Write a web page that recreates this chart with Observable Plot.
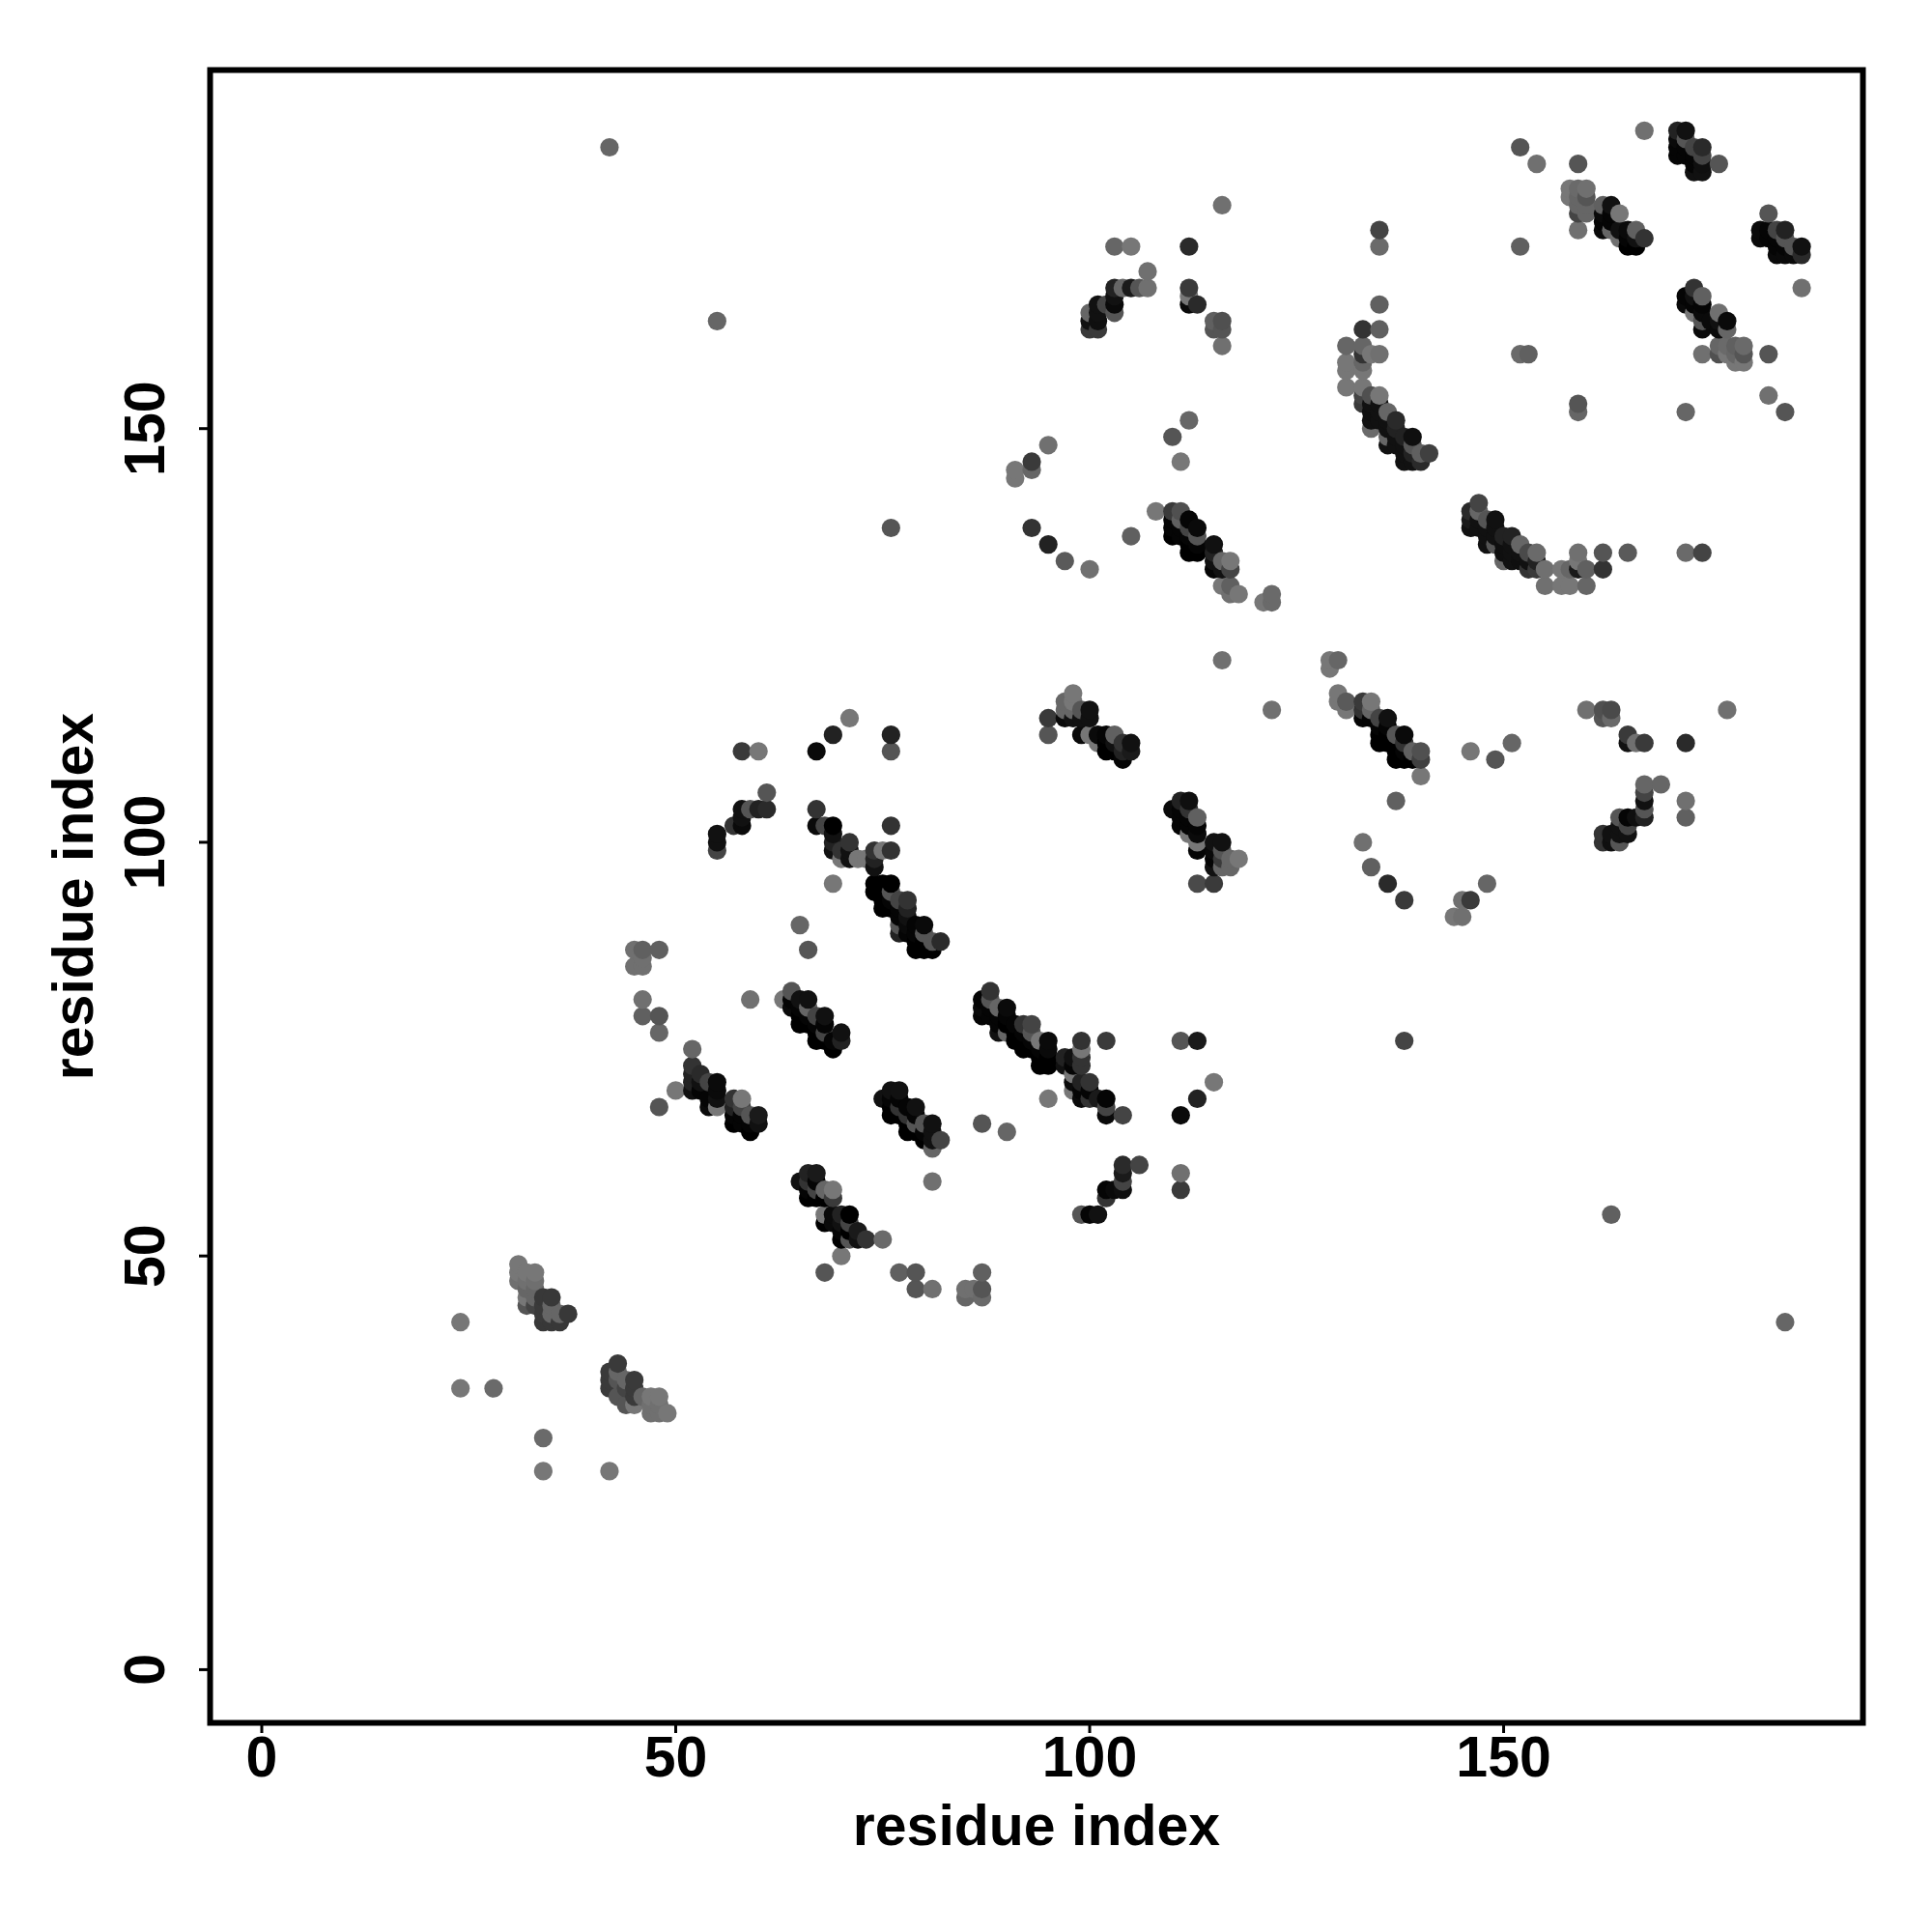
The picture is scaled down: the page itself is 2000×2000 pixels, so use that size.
<!DOCTYPE html>
<html><head><meta charset="utf-8">
<script src="https://cdn.jsdelivr.net/npm/d3@7"></script>
<script src="https://cdn.jsdelivr.net/npm/@observablehq/plot@0.6"></script>
<style>html,body{margin:0;padding:0;background:#fff}</style>
</head><body><div id="chart"></div>
<script>
// [residue i, residue j, grey level]
const isolated = [[24,42,0x77],[24,34,0x77],[28,34,0x6a],[34,28,0x6a],[34,24,0x77],[42,24,0x77],[42,184,0x66],[55,163,0x66],[76,138,0x55],[138,76,0x44],[163,55,0x60],[184,42,0x66],[116,177,0x70],[135,174,0x44],[135,172,0x6a],[135,165,0x60],[152,184,0x55],[154,182,0x70],[159,182,0x55],[152,172,0x60],[167,186,0x70],[116,122,0x70],[122,116,0x70],[137,105,0x60],[146,111,0x77],[149,110,0x55],[151,112,0x66],[172,112,0x2a],[177,116,0x70],[172,105,0x70],[172,103,0x60],[172,135,0x6a],[174,135,0x44],[165,135,0x5a],[182,159,0x55],[182,154,0x70],[184,152,0x55],[172,152,0x66],[159,153,0x55],[159,152,0x66],[152,159,0x6a],[153,159,0x60],[186,167,0x70],[176,182,0x55],[182,176,0x55],[159,174,0x70]];
const clusterA = [[31,49,0x77],[31,48,0x77],[31,47,0x70],[32,48,0x77],[33,48,0x77],[32,47,0x70],[33,47,0x6f],[32,46,0x66],[33,46,0x66],[32,45,0x77],[32,44,0x55],[33,45,0x66],[33,44,0x44],[34,45,0x38],[35,45,0x38],[34,44,0x3a],[35,44,0x66],[34,43,0x3a],[35,43,0x66],[36,43,0x66],[37,43,0x38],[34,42,0x38],[35,42,0x38],[36,42,0x38]];
const clusterB = [[42,36,0x3a],[42,35,0x3a],[42,34,0x3a],[43,37,0x3a],[43,36,0x66],[43,35,0x55],[43,33,0x55],[44,35,0x66],[44,34,0x44],[44,32,0x55],[45,35,0x3a],[45,34,0x3a],[45,33,0x3a],[45,32,0x77],[46,33,0x66],[47,33,0x77],[48,33,0x77],[47,32,0x70],[48,32,0x70],[47,31,0x70],[48,31,0x70],[49,31,0x77]];
const clusterC = [[45,87,0x70],[46,87,0x60],[48,87,0x60],[45,85,0x70],[46,85,0x70],[46,86,0x70],[46,81,0x70],[46,79,0x60],[48,79,0x55],[48,77,0x66],[52,75,0x66],[50,70,0x77],[48,68,0x55],[59,81,0x70],[66,87,0x55],[65,90,0x66]];
const clusterD = [[52,73,0x33],[52,72,0x22],[52,71,0x22],[52,70,0x11],[53,72,0x2a],[53,71,0x11],[53,70,0x05],[54,71,0x44],[54,69,0x05],[54,68,0x0a],[55,71,0x0a],[55,70,0x0a],[55,69,0x11],[55,68,0x77],[57,69,0x33],[58,69,0x77],[57,68,0x22],[57,67,0x05],[57,66,0x00],[58,68,0x44],[58,67,0x05],[58,66,0x05],[59,67,0x55],[59,66,0x05],[59,65,0x00],[60,67,0x1a],[60,66,0x11]];
const clusterE = [[63,81,0x77],[64,82,0x55],[64,81,0x05],[64,80,0x0a],[65,81,0x11],[65,80,0x05],[65,79,0x00],[65,78,0x00],[66,81,0x11],[66,80,0x66],[66,79,0x05],[66,78,0x00],[67,79,0x44],[67,78,0x05],[67,77,0x00],[67,76,0x00],[68,79,0x11],[68,78,0x05],[68,77,0x44],[68,76,0x00],[69,76,0x05],[69,75,0x00],[70,77,0x11],[70,76,0x22]];
const clusterF = [[58,111,0x3a],[60,111,0x77],[67,111,0x0a],[69,113,0x22],[71,115,0x77],[76,113,0x22],[76,111,0x55],[61,106,0x55],[61,104,0x2a],[60,104,0x22],[59,104,0x55],[58,104,0x11],[58,103,0x11],[58,102,0x0a],[57,102,0x33],[55,101,0x11],[55,100,0x11],[55,99,0x44],[67,104,0x33],[67,102,0x0a],[68,102,0x44],[69,102,0x00],[69,101,0x11],[69,100,0x22],[69,99,0x11],[70,99,0x33],[71,100,0x33],[71,99,0x11],[71,98,0x11],[70,98,0x77],[72,98,0x77],[73,98,0x77],[74,99,0x33],[75,99,0x77],[76,99,0x33],[74,98,0x22],[74,97,0x11],[76,102,0x33],[69,95,0x77]];
const clusterG = [[74,95,0x00],[75,95,0x00],[76,95,0x00],[74,94,0x00],[75,94,0x00],[76,94,0x55],[75,93,0x00],[76,93,0x05],[77,93,0x44],[78,93,0x33],[75,92,0x00],[76,92,0x00],[77,92,0x05],[78,92,0x22],[77,91,0x05],[78,91,0x11],[77,90,0x55],[77,89,0x22],[78,90,0x0a],[78,89,0x05],[79,90,0x05],[80,90,0x0a],[79,89,0x05],[80,89,0x55],[79,88,0x00],[80,88,0x00],[81,88,0x55],[82,88,0x2a],[79,87,0x00],[80,87,0x00],[81,87,0x00]];
const clusterH = [[87,81,0x05],[87,80,0x0a],[87,79,0x05],[88,82,0x33],[88,81,0x55],[88,80,0x05],[88,79,0x05],[89,80,0x66],[89,79,0x05],[89,78,0x05],[89,77,0x11],[90,80,0x0a],[90,79,0x05],[90,78,0x00],[90,77,0x66],[91,78,0x05],[91,77,0x00],[91,76,0x00],[92,78,0x33],[92,77,0x05],[92,76,0x00],[92,75,0x00],[93,78,0x44],[93,77,0x55],[93,76,0x05],[93,75,0x00],[94,76,0x77],[94,75,0x05],[94,74,0x00],[94,73,0x00],[95,76,0x0a],[95,75,0x0a],[95,74,0x00],[95,73,0x00],[97,74,0x22],[97,73,0x11],[98,74,0x11],[98,73,0x05],[98,72,0x77],[99,76,0x33],[99,75,0x77],[99,74,0x33],[99,73,0x33],[102,76,0x3a],[111,76,0x55],[113,76,0x1a]];
const clusterI = [[75,69,0x11],[76,70,0x11],[76,69,0x05],[76,68,0x00],[76,67,0x00],[77,70,0x11],[77,69,0x05],[77,68,0x33],[77,67,0x00],[78,68,0x05],[78,67,0x33],[78,66,0x00],[78,65,0x00],[79,68,0x11],[79,67,0x05],[79,66,0x55],[79,65,0x00],[80,66,0x55],[80,65,0x05],[80,64,0x00],[81,66,0x11],[81,65,0x11],[81,64,0x11],[82,64,0x44],[81,63,0x66],[87,66,0x55],[90,65,0x66],[95,69,0x77],[95,115,0x3a],[95,113,0x55]];
const clusterJ = [[65,59,0x11],[66,60,0x22],[67,60,0x1a],[66,59,0x33],[66,58,0x05],[66,57,0x00],[67,59,0x05],[67,58,0x44],[67,57,0x00],[68,58,0x66],[68,57,0x00],[69,58,0x77],[69,57,0x3a],[68,55,0x77],[68,54,0x00],[69,55,0x0a],[69,54,0x0a],[70,55,0x22],[70,54,0x11],[70,53,0x05],[70,52,0x00],[71,55,0x00],[71,54,0x44],[71,53,0x00],[71,52,0x55],[72,53,0x1a],[72,52,0x11],[73,52,0x33],[75,52,0x6a],[70,50,0x77],[68,48,0x55],[77,48,0x60],[79,48,0x55],[79,46,0x55],[81,46,0x70],[85,46,0x70],[85,45,0x66],[86,46,0x70],[87,45,0x6a],[87,46,0x55],[87,48,0x60],[81,59,0x70]];
const clusterK = [[98,71,0x0a],[98,70,0x77],[99,71,0x22],[99,70,0x05],[99,69,0x0a],[100,71,0x33],[100,70,0x05],[100,69,0x33],[101,69,0x1a],[102,69,0x05],[102,68,0x44],[102,67,0x0a],[104,67,0x44],[111,67,0x0a],[113,69,0x22],[115,71,0x77],[104,61,0x2a],[106,61,0x44],[104,60,0x1a],[104,59,0x44],[104,58,0x0f],[102,58,0x05],[103,58,0x0a],[102,57,0x33],[99,55,0x55],[100,55,0x05],[101,55,0x11],[111,60,0x70],[111,58,0x3a]];
const clusterL = [[97,117,0x66],[97,116,0x66],[97,115,0x0a],[98,118,0x77],[98,117,0x77],[98,116,0x66],[98,115,0x11],[99,116,0x55],[99,115,0x11],[100,116,0x11],[100,115,0x11],[99,113,0x0a],[100,113,0x77],[101,112,0x77],[101,113,0x0a],[102,113,0x05],[103,113,0x60],[102,112,0x00],[102,111,0x00],[103,112,0x11],[103,111,0x00],[104,112,0x33],[104,111,0x22],[104,110,0x05],[105,112,0x11],[105,111,0x1a]];
const clusterM = [[110,104,0x0a],[111,105,0x22],[112,105,0x0f],[111,104,0x05],[112,104,0x33],[111,103,0x05],[111,102,0x05],[112,103,0x05],[113,103,0x60],[113,102,0x05],[112,102,0x05],[112,101,0x77],[113,101,0x0a],[113,100,0x77],[113,99,0x05],[115,100,0x11],[116,100,0x11],[115,99,0x0a],[115,98,0x05],[115,97,0x11],[116,99,0x55],[116,98,0x3a],[116,97,0x66],[117,98,0x66],[117,97,0x66],[118,98,0x77],[113,95,0x4a],[115,95,0x3a]];
const clusterN = [[103,172,0x66],[105,172,0x77],[112,172,0x2a],[107,169,0x70],[107,167,0x70],[106,167,0x55],[105,167,0x1a],[104,167,0x66],[103,167,0x22],[103,166,0x11],[103,165,0x0a],[103,164,0x55],[102,165,0x44],[101,165,0x11],[101,164,0x11],[101,163,0x0f],[101,162,0x3a],[100,164,0x66],[100,163,0x11],[100,162,0x3a],[112,167,0x3a],[112,166,0x77],[112,165,0x0a],[113,165,0x2a],[115,163,0x60],[116,163,0x50],[115,162,0x55],[116,162,0x55],[116,160,0x70]];
const clusterO = [[112,151,0x66],[110,149,0x55],[111,146,0x77],[95,148,0x70],[93,146,0x3a],[93,145,0x66],[91,145,0x77],[91,144,0x77],[93,138,0x33],[95,136,0x22],[97,134,0x5a],[100,133,0x70],[105,137,0x60]];
const clusterP = [[108,140,0x77],[110,140,0x3a],[111,140,0x50],[110,139,0x05],[110,138,0x05],[111,139,0x60],[111,138,0x05],[110,137,0x00],[111,137,0x05],[112,139,0x05],[112,138,0x44],[112,137,0x05],[113,138,0x0a],[113,137,0x55],[113,136,0x05],[112,136,0x00],[112,135,0x00],[113,135,0x00],[115,136,0x11],[115,135,0x22],[115,134,0x11],[115,133,0x05],[116,134,0x66],[116,133,0x11],[117,134,0x77],[117,133,0x44],[116,131,0x77],[117,131,0x60],[117,130,0x70],[118,130,0x77],[121,129,0x77],[122,130,0x6a],[122,129,0x6a]];
const clusterQ = [[171,186,0x22],[172,186,0x11],[171,185,0x0a],[171,184,0x05],[171,183,0x05],[172,185,0x55],[172,184,0x05],[172,183,0x05],[173,184,0x44],[173,183,0x05],[174,184,0x2a],[174,183,0x44],[173,182,0x05],[174,182,0x0f],[173,181,0x11],[174,181,0x11]];
const clusterR = [[181,174,0x0a],[181,173,0x0a],[182,174,0x05],[183,174,0x44],[184,174,0x22],[182,173,0x05],[183,173,0x05],[183,172,0x05],[184,173,0x55],[184,172,0x05],[183,171,0x0a],[184,171,0x0a],[185,172,0x55],[185,171,0x0a],[186,172,0x11],[186,171,0x2a]];
const clusterS = [[158,179,0x77],[158,178,0x77],[159,179,0x6a],[160,179,0x70],[159,178,0x66],[160,178,0x55],[160,177,0x66],[159,177,0x66],[159,176,0x44],[160,176,0x66],[162,177,0x60],[163,177,0x11],[162,176,0x0a],[163,176,0x05],[164,176,0x77],[162,175,0x05],[163,175,0x05],[162,174,0x0a],[163,174,0x66],[164,174,0x11],[164,173,0x70],[165,174,0x0a],[166,174,0x60],[165,173,0x05],[166,173,0x11],[167,173,0x33],[165,172,0x00],[166,172,0x00]];
const clusterT = [[173,167,0x33],[172,166,0x05],[173,166,0x11],[174,166,0x60],[172,165,0x0a],[173,165,0x05],[174,165,0x05],[173,164,0x77],[174,164,0x0a],[176,164,0x70],[174,163,0x55],[174,162,0x0a],[177,163,0x0a],[177,162,0x66],[176,163,0x11],[176,162,0x0a],[175,163,0x0a],[174,159,0x70],[176,159,0x50],[176,160,0x66],[177,160,0x6a],[178,160,0x60],[179,160,0x6a],[177,159,0x77],[178,159,0x66],[179,159,0x55],[178,158,0x77],[179,158,0x77]];
const clusterU = [[133,162,0x33],[135,162,0x60],[131,160,0x66],[133,160,0x66],[133,159,0x33],[134,159,0x77],[135,159,0x70],[131,158,0x77],[131,157,0x77],[133,158,0x66],[133,157,0x77],[131,155,0x77],[133,155,0x77],[133,154,0x44],[133,153,0x3a],[134,154,0x50],[135,154,0x77],[134,153,0x11],[134,152,0x0f],[134,151,0x11],[134,150,0x6a],[135,153,0x11],[135,152,0x11],[135,151,0x11],[136,152,0x66],[136,151,0x11],[137,151,0x2a],[137,150,0x22],[136,150,0x11],[136,149,0x66],[136,148,0x11],[137,149,0x11],[138,149,0x22],[139,149,0x0f],[137,148,0x11],[138,148,0x11],[138,147,0x11],[139,148,0x55],[139,147,0x22],[140,147,0x60],[141,147,0x40],[138,146,0x11],[139,146,0x11],[140,146,0x2a]];
const clusterV = [[146,140,0x2a],[146,139,0x1a],[146,138,0x11],[147,141,0x44],[147,140,0x66],[147,139,0x11],[147,138,0x11],[148,139,0x55],[148,138,0x11],[148,137,0x11],[148,136,0x11],[149,139,0x11],[149,138,0x11],[149,137,0x11],[149,136,0x55],[150,137,0x22],[150,136,0x0f],[150,135,0x0f],[150,134,0x66],[151,137,0x22],[151,136,0x11],[151,135,0x11],[151,134,0x11],[152,136,0x66],[152,135,0x11],[152,134,0x0f],[153,135,0x4a],[153,134,0x11],[153,133,0x33],[154,135,0x6a],[154,134,0x22],[154,133,0x3a],[155,133,0x70],[155,131,0x70],[157,133,0x77],[157,131,0x77],[158,131,0x77],[158,133,0x66],[159,133,0x1a],[159,135,0x70],[159,134,0x77],[160,133,0x60],[160,131,0x66],[162,135,0x55],[162,133,0x33]];
const clusterW = [[129,122,0x77],[130,122,0x66],[129,121,0x77],[130,118,0x77],[130,117,0x77],[131,117,0x5a],[131,116,0x77],[133,117,0x3a],[134,117,0x77],[133,116,0x33],[133,115,0x05],[134,116,0x66],[134,115,0x05],[135,115,0x44],[136,115,0x11],[135,114,0x05],[136,114,0x05],[135,113,0x00],[135,112,0x00],[136,113,0x00],[136,112,0x00],[137,113,0x55],[138,113,0x0a],[137,112,0x00],[138,112,0x33],[137,111,0x00],[137,110,0x00],[138,110,0x00],[138,111,0x05],[139,111,0x60],[140,111,0x50],[139,110,0x00],[140,110,0x40],[140,108,0x77],[133,100,0x70],[134,97,0x60],[136,95,0x2a],[138,93,0x3a],[145,93,0x70],[146,93,0x3a],[148,95,0x66],[144,91,0x77],[145,91,0x70]];
const clusterX = [[160,116,0x70],[162,116,0x50],[163,116,0x4a],[162,115,0x55],[163,115,0x6a],[165,113,0x3a],[165,112,0x11],[166,112,0x70],[167,112,0x3a],[167,107,0x66],[169,107,0x66],[167,106,0x44],[167,105,0x11],[167,104,0x55],[167,103,0x22],[166,103,0x0f],[165,103,0x05],[164,103,0x55],[165,102,0x44],[165,101,0x11],[164,102,0x11],[164,101,0x11],[163,101,0x11],[162,101,0x33],[162,100,0x33],[163,100,0x0f],[164,100,0x55]];

const xTicks = [0, 50, 100, 150];
const yTicks = [0, 50, 100, 150];
const axisTitle = "residue index";

const contacts = d3.sort(
  [isolated, clusterA, clusterB, clusterC, clusterD, clusterE, clusterF, clusterG, clusterH, clusterI, clusterJ, clusterK, clusterL, clusterM, clusterN, clusterO, clusterP, clusterQ, clusterR, clusterS, clusterT, clusterU, clusterV, clusterW, clusterX].flat(),
  d => d[0], d => d[1]
);

const font = {fontFamily: "Liberation Sans", fontWeight: "bold", fontSize: 59};

const chart = Plot.plot({
  width: 2000, height: 2000,
  marginLeft: 217, marginRight: 72, marginTop: 72, marginBottom: 217,
  style: {background: "#fff", color: "#000", fontFamily: "Liberation Sans"},
  x: {domain: [-6.24, 193.4]},
  y: {domain: [-6.43, 193.34]},
  color: {type: "linear", domain: [0, 119], range: ["#000000", "#777777"], clamp: true},
  marks: [
    Plot.dot(contacts, {x: d => d[0], y: d => d[1], fill: d => d[2], r: 9.6, stroke: "none"}),
    Plot.frame({stroke: "#000", strokeWidth: 6}),
    Plot.axisX({ticks: xTicks, tickSize: 11, strokeWidth: 3, tickPadding: 3, label: axisTitle, labelAnchor: "center", labelArrow: "none", labelOffset: 126, ...font}),
    Plot.axisY({ticks: yTicks, tickSize: 11, strokeWidth: 3, tickRotate: -90, tickPadding: 37, label: axisTitle, labelAnchor: "center", labelArrow: "none", labelOffset: 163, ...font})
  ]
});
document.getElementById("chart").appendChild(chart);
</script></body></html>
